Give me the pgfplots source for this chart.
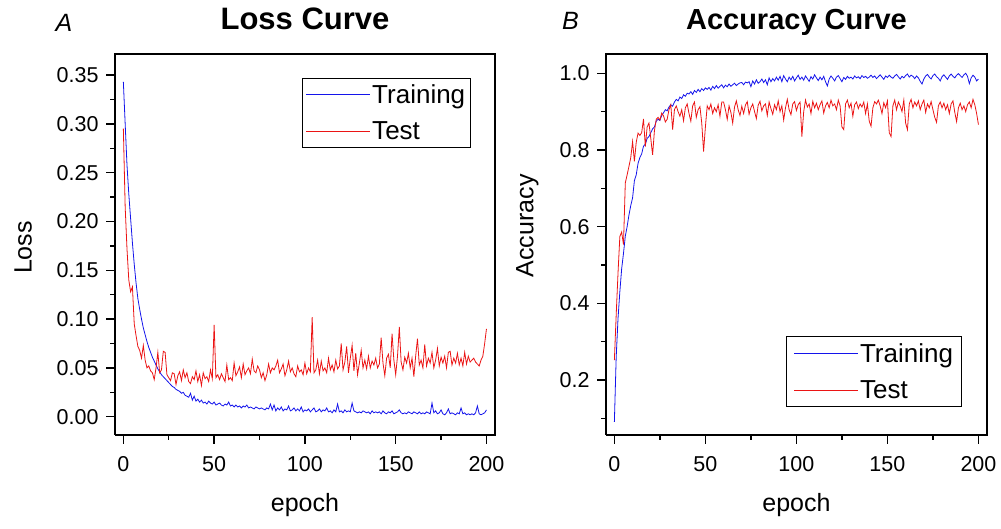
\documentclass[border=0pt]{standalone}
\usepackage{fontspec}
\setmainfont{Liberation Sans}
\usepackage{pgfplots}
\usepackage{pgfplotstable}
\pgfplotsset{compat=1.18}

\pgfplotstableread{
epoch trl tel tra tea
0 0.343 0.295 0.091 0.252
1 0.300 0.215 0.260 0.370
2 0.258 0.172 0.360 0.479
3 0.228 0.140 0.430 0.574
4 0.203 0.128 0.490 0.586
5 0.178 0.133 0.530 0.553
6 0.156 0.095 0.575 0.714
7 0.137 0.083 0.600 0.735
8 0.121 0.072 0.630 0.757
9 0.110 0.068 0.655 0.780
10 0.100 0.060 0.675 0.822
11 0.091 0.073 0.720 0.770
12 0.084 0.058 0.735 0.820
13 0.077 0.050 0.765 0.844
14 0.071 0.052 0.780 0.838
15 0.066 0.047 0.790 0.845
16 0.061 0.045 0.810 0.881
17 0.057 0.038 0.815 0.809
18 0.053 0.050 0.830 0.860
19 0.049 0.066 0.835 0.870
20 0.046 0.045 0.845 0.830
21 0.043 0.048 0.855 0.787
22 0.041 0.067 0.860 0.850
23 0.039 0.066 0.875 0.880
24 0.037 0.043 0.880 0.885
25 0.035 0.040 0.877 0.878
26 0.033 0.037 0.890 0.896
27 0.031 0.045 0.897 0.889
28 0.030 0.044 0.905 0.873
29 0.028 0.033 0.902 0.880
30 0.027 0.042 0.912 0.905
31 0.026 0.046 0.918 0.918
32 0.024 0.037 0.914 0.853
33 0.025 0.048 0.925 0.905
34 0.022 0.040 0.932 0.915
35 0.021 0.045 0.928 0.900
36 0.020 0.036 0.938 0.888
37 0.024 0.034 0.934 0.905
38 0.017 0.041 0.944 0.876
39 0.021 0.038 0.940 0.910
40 0.016 0.047 0.948 0.920
41 0.018 0.036 0.946 0.895
42 0.015 0.043 0.952 0.875
43 0.017 0.032 0.945 0.915
44 0.014 0.045 0.955 0.925
45 0.015 0.039 0.950 0.885
46 0.013 0.041 0.958 0.905
47 0.016 0.036 0.952 0.913
48 0.014 0.048 0.960 0.870
49 0.013 0.039 0.955 0.796
50 0.015 0.094 0.962 0.860
51 0.012 0.040 0.958 0.915
52 0.013 0.043 0.963 0.905
53 0.014 0.038 0.956 0.920
54 0.012 0.044 0.966 0.895
55 0.011 0.040 0.960 0.910
56 0.013 0.036 0.968 0.900
57 0.012 0.053 0.961 0.918
58 0.015 0.038 0.966 0.888
59 0.011 0.040 0.970 0.925
60 0.012 0.037 0.962 0.925
61 0.010 0.055 0.969 0.905
62 0.012 0.042 0.965 0.880
63 0.010 0.046 0.972 0.915
64 0.011 0.051 0.966 0.898
65 0.009 0.040 0.970 0.870
66 0.011 0.054 0.974 0.912
67 0.010 0.043 0.968 0.928
68 0.012 0.047 0.972 0.905
69 0.009 0.050 0.975 0.890
70 0.010 0.044 0.976 0.914
71 0.009 0.059 0.970 0.895
72 0.008 0.047 0.977 0.917
73 0.010 0.045 0.975 0.926
74 0.009 0.052 0.978 0.893
75 0.008 0.048 0.965 0.910
76 0.009 0.040 0.980 0.920
77 0.008 0.045 0.972 0.900
78 0.007 0.037 0.983 0.882
79 0.009 0.043 0.974 0.917
80 0.008 0.054 0.978 0.927
81 0.013 0.045 0.985 0.902
82 0.007 0.050 0.976 0.915
83 0.012 0.048 0.983 0.920
84 0.006 0.052 0.970 0.890
85 0.009 0.058 0.988 0.925
86 0.007 0.045 0.978 0.908
87 0.010 0.049 0.986 0.893
88 0.006 0.054 0.980 0.918
89 0.008 0.042 0.990 0.905
90 0.007 0.048 0.982 0.928
91 0.011 0.057 0.992 0.900
92 0.006 0.046 0.978 0.915
93 0.007 0.050 0.994 0.878
94 0.009 0.044 0.985 0.910
95 0.006 0.041 0.978 0.932
96 0.008 0.052 0.990 0.905
97 0.006 0.046 0.983 0.892
98 0.010 0.048 0.992 0.920
99 0.005 0.043 0.980 0.926
100 0.007 0.055 0.988 0.903
101 0.006 0.044 0.995 0.918
102 0.008 0.050 0.984 0.925
103 0.005 0.046 0.990 0.835
104 0.007 0.102 0.982 0.900
105 0.009 0.045 0.993 0.930
106 0.005 0.048 0.986 0.912
107 0.006 0.058 0.979 0.920
108 0.008 0.044 0.991 0.895
109 0.005 0.057 0.985 0.927
110 0.007 0.047 0.996 0.910
111 0.006 0.050 0.988 0.922
112 0.009 0.045 0.981 0.905
113 0.005 0.060 0.990 0.918
114 0.006 0.048 0.983 0.928
115 0.004 0.053 0.992 0.896
116 0.007 0.046 0.978 0.915
117 0.005 0.058 0.967 0.924
118 0.013 0.049 0.985 0.910
119 0.005 0.052 0.993 0.930
120 0.006 0.075 0.987 0.915
121 0.004 0.048 0.980 0.920
122 0.007 0.056 0.990 0.905
123 0.005 0.072 0.994 0.930
124 0.006 0.045 0.986 0.915
125 0.005 0.060 0.978 0.860
126 0.014 0.073 0.989 0.853
127 0.006 0.047 0.984 0.920
128 0.005 0.065 0.992 0.930
129 0.004 0.043 0.987 0.910
130 0.005 0.055 0.990 0.922
131 0.004 0.068 0.985 0.888
132 0.006 0.050 0.993 0.918
133 0.005 0.058 0.988 0.925
134 0.004 0.049 0.991 0.908
135 0.005 0.062 0.986 0.920
136 0.003 0.050 0.994 0.912
137 0.006 0.057 0.989 0.925
138 0.004 0.053 0.992 0.895
139 0.005 0.060 0.987 0.920
140 0.004 0.050 0.990 0.875
141 0.005 0.054 0.995 0.862
142 0.003 0.081 0.989 0.910
143 0.006 0.055 0.993 0.926
144 0.004 0.042 0.986 0.920
145 0.003 0.060 0.991 0.930
146 0.005 0.064 0.996 0.915
147 0.004 0.050 0.990 0.895
148 0.006 0.085 0.984 0.923
149 0.003 0.058 0.993 0.910
150 0.004 0.043 0.989 0.928
151 0.005 0.062 0.995 0.845
152 0.007 0.092 0.990 0.835
153 0.004 0.056 0.987 0.915
154 0.003 0.048 0.993 0.930
155 0.004 0.061 0.997 0.905
156 0.003 0.055 0.991 0.925
157 0.005 0.065 0.985 0.915
158 0.004 0.050 0.992 0.900
159 0.003 0.060 0.988 0.930
160 0.005 0.041 0.994 0.870
161 0.004 0.062 0.998 0.853
162 0.003 0.080 0.990 0.920
163 0.005 0.053 0.995 0.932
164 0.003 0.058 0.992 0.910
165 0.004 0.050 0.986 0.925
166 0.003 0.074 0.993 0.915
167 0.005 0.052 0.988 0.928
168 0.004 0.060 0.979 0.905
169 0.003 0.055 0.972 0.920
170 0.014 0.066 0.985 0.930
171 0.004 0.050 0.993 0.898
172 0.006 0.058 0.997 0.920
173 0.003 0.070 0.990 0.910
174 0.004 0.052 0.985 0.926
175 0.007 0.061 0.994 0.905
176 0.003 0.055 0.998 0.885
177 0.002 0.062 0.991 0.872
178 0.004 0.050 0.987 0.915
179 0.008 0.066 0.980 0.925
180 0.003 0.067 0.991 0.910
181 0.004 0.053 0.996 0.922
182 0.003 0.060 0.990 0.905
183 0.002 0.055 0.984 0.918
184 0.004 0.065 0.993 0.895
185 0.003 0.053 0.998 0.920
186 0.009 0.060 0.992 0.928
187 0.003 0.052 0.988 0.898
188 0.004 0.066 0.995 0.874
189 0.002 0.054 0.999 0.910
190 0.003 0.062 0.994 0.922
191 0.002 0.056 0.989 0.905
192 0.003 0.058 0.996 0.915
193 0.002 0.060 1.000 0.900
194 0.004 0.056 0.992 0.918
195 0.011 0.054 0.973 0.925
196 0.003 0.052 0.988 0.910
197 0.002 0.058 0.995 0.932
198 0.003 0.062 0.990 0.918
199 0.004 0.075 0.980 0.895
200 0.007 0.090 0.985 0.866
}\data

\definecolor{cblue}{RGB}{20,20,235}
\definecolor{cred}{RGB}{235,20,20}

\pgfplotsset{
  common/.style={
    scale only axis,
    axis x line*=bottom, axis y line*=left,
    axis line style={line width=1.6pt},
    tick style={line width=1.4pt, black},
    major tick length=9pt,
    tick align=outside,
    minor tick num=0,
    ticklabel style={font=\fontsize{21.5}{25}\selectfont},
    xticklabel style={yshift=-9pt},
    yticklabel style={xshift=-4pt},
    /pgf/number format/assume math mode=true,
    label style={font=\fontsize{25}{29}\selectfont},
    xmin=-4.6, xmax=204.7,
    xtick={0,50,100,150,200},
    extra x ticks={25,75,125,175}, extra x tick labels={},
    extra x tick style={major tick length=5pt},
    extra y tick style={major tick length=5pt},
    xlabel={epoch},
    xlabel style={at={(axis description cs:0.5,0)}, anchor=base, yshift=-76.7pt},
    legend cell align=left,
    legend style={draw=black, line width=0.7pt, font=\fontsize{26}{30}\selectfont,
      inner xsep=4pt, inner ysep=5pt, row sep=14pt, nodes={inner sep=1.5pt}},
    legend image code/.code={\draw[#1] (0pt,0pt) -- (64pt,0pt);},
    title style={at={(axis description cs:0.5,1)}, anchor=base, yshift=18pt},
    clip=false,
  }
}

\begin{document}
\begin{tikzpicture}
\useasboundingbox (0pt,0pt) rectangle (1001pt,529pt);

\begin{axis}[common,
  at={(115pt,94pt)}, anchor=south west,
  width=380pt, height=381pt,
  ymin=-0.0187, ymax=0.3715,
  ytick={0,0.05,0.10,0.15,0.20,0.25,0.30,0.35},
  extra y ticks={0.025,0.075,0.125,0.175,0.225,0.275,0.325}, extra y tick labels={},
  yticklabel style={/pgf/number format/.cd, fixed, fixed zerofill, precision=2},
  ylabel={Loss},
  ylabel style={at={(axis description cs:-0.2192,0.492)}, anchor=base},
  title={Loss Curve},
  title style={font=\bfseries\fontsize{31}{34}\selectfont},
  legend style={at={(0.937,0.938)}, anchor=north east},
]
\addplot[cblue, line width=0.8pt] table[x=epoch, y=trl] {\data};
\addlegendentry{Training}
\addplot[cred, line width=0.8pt] table[x=epoch, y=tel] {\data};
\addlegendentry{Test}
\draw[line width=1.6pt, line cap=rect] (rel axis cs:0,1) -- (rel axis cs:1,1) -- (rel axis cs:1,0);
\end{axis}

\begin{axis}[common,
  at={(606pt,94pt)}, anchor=south west,
  width=381pt, height=381pt,
  ymin=0.0565, ymax=1.0503,
  ytick={0.2,0.4,0.6,0.8,1.0},
  extra y ticks={0.1,0.3,0.5,0.7,0.9}, extra y tick labels={},
  yticklabel style={/pgf/number format/.cd, fixed, fixed zerofill, precision=1},
  ylabel={Accuracy},
  ylabel style={at={(axis description cs:-0.1908,0.549)}, anchor=base},
  title={Accuracy Curve},
  title style={font=\bfseries\fontsize{29}{33}\selectfont},
  legend style={at={(0.934,0.074)}, anchor=south east, inner xsep=7pt},
]
\addplot[cblue, line width=0.8pt] table[x=epoch, y=tra] {\data};
\addlegendentry{Training}
\addplot[cred, line width=0.8pt] table[x=epoch, y=tea] {\data};
\addlegendentry{Test}
\draw[line width=1.6pt, line cap=rect] (rel axis cs:0,1) -- (rel axis cs:1,1) -- (rel axis cs:1,0);
\end{axis}

\node[anchor=base, font=\itshape\fontsize{25}{30}\selectfont] at (64pt,497.5pt) {A};
\node[anchor=base, font=\itshape\fontsize{25}{30}\selectfont] at (570.5pt,499pt) {B};
\end{tikzpicture}
\end{document}
